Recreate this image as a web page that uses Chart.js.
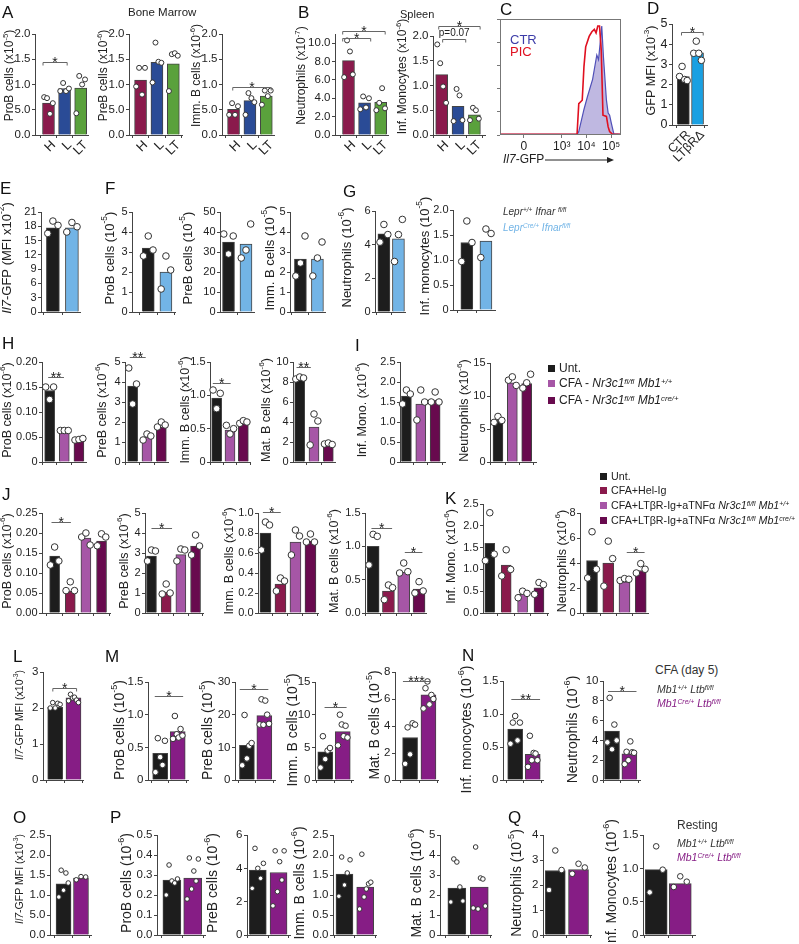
<!DOCTYPE html>
<html>
<head>
<meta charset="utf-8">
<script src="https://cdn.jsdelivr.net/npm/chart.js@4.4.1/dist/chart.umd.min.js"></script>
<style>
  body{margin:0;background:#fff}
  #fig{position:relative;width:799px;height:944px;overflow:hidden;font-family:"Liberation Sans",Arial,sans-serif;color:#222}
  #fig canvas{position:absolute}
  .t{position:absolute;white-space:nowrap;line-height:1}
  .t sup{font-size:0.65em;vertical-align:0.45em;line-height:0}
  .sq{display:inline-block;width:7px;height:7px;margin-right:4px;vertical-align:0px}
</style>
</head>
<body>
<div id="fig"></div>
<script>
// ---------- data ----------
const catsHLT = ['H', 'L', 'LT'];
const catsD = ['CTR', 'LTβRΔ'];

const tickA = [0, 0.5, 1, 1.5, 2];
const tickLabA = ['0.0', '5.0', '1.0', '1.5', '2.0'];
const a1Bars = [0.63, 0.92, 0.93];
const a1Pts = [[0.75, 0.73, 0.42, 0.63], [0.87, 1.03, 0.87, 0.92], [0.43, 1.17, 1.0, 1.1]];
const a2Bars = [1.09, 1.44, 1.41];
const a2Pts = [[0.96, 1.33, 0.8, 1.33], [1.04, 1.83, 1.45, 1.43], [0.87, 1.6, 1.62, 1.57]];
const a3Bars = [0.51, 0.68, 0.77];
const a3Pts = [[0.4, 0.63, 0.4, 0.57], [0.4, 0.83, 0.73, 0.65], [0.6, 0.88, 0.77, 0.88]];
const tickB1 = [0, 2, 4, 6, 8, 10];
const tickLabB1 = ['0.0', '2.0', '4.0', '6.0', '8.0', '10.0'];
const b1Bars = [8.1, 3.5, 3.55];
const b1Pts = [[6.3, 10.3, 9.1, 6.6], [2.8, 4.2, 3.0, 4.0], [2.7, 3.5, 5.1, 2.9]];
const b2Bars = [1.22, 0.58, 0.41];
const b2Pts = [[1.83, 1.45, 0.98, 0.65], [0.28, 0.93, 0.8, 0.3], [0.3, 0.55, 0.5, 0.33]];

// C: histogram, x in display units (0 -> 1.47, 10^3 -> 3, 10^4 -> 4, 10^5 -> 5), y in % of max
const cTicks = [1.47, 3, 4, 5];
const cTickLabels = ['0', '10³', '10⁴', '10⁵'];
const ctrX = [0.5, 3.62, 3.69, 3.9, 4.04, 4.25, 4.42, 4.49, 4.56, 4.62, 4.69, 4.81, 4.88, 4.94, 5.01, 5.11, 5.4];
const ctrY = [0.5, 0.5, 3, 22, 33, 48, 69, 65, 80, 94, 67, 30, 19, 17, 10, 1, 0.5];
const picX = [0.5, 3.62, 3.69, 3.83, 3.9, 3.97, 4.11, 4.22, 4.32, 4.39, 4.46, 4.53, 4.6, 4.67, 4.81, 4.88, 4.94, 5.06, 5.4];
const picY = [0.5, 0.5, 27, 30, 59, 76, 85, 89, 91, 88, 94, 94, 73, 17, 16, 7, 3, 0.5, 0.5];

const tick05 = [0, 1, 2, 3, 4, 5];
const dBars = [2.4, 3.57];
const dPts = [[2.4, 2.9, 2.25, 2.2], [3.55, 4.15, 3.55, 3.2]];

const tickE = [0, 3, 6, 9, 12, 15, 18, 21];
const eBars = [17.7, 17.7];
const ePts = [[16.5, 19.1, 18.2], [16.8, 18.8, 17.9]];
const f1Bars = [3.2, 2.0];
const f1Pts = [[2.8, 3.8, 3.1], [1.15, 2.8, 2.1]];
const tickF2 = [0, 10, 20, 30, 40, 50];
const f2Bars = [35, 34];
const f2Pts = [[39, 29, 38], [27, 31, 44]];
const f3Bars = [2.65, 2.65];
const f3Pts = [[1.8, 2.45, 3.8], [1.8, 2.7, 3.5]];
const tickG1 = [0, 2, 4, 6];
const g1Bars = [4.65, 4.35];
const g1Pts = [[4.15, 5.2, 4.6], [3.0, 4.6, 5.5]];
const tickG2 = [0, 0.5, 1, 1.5, 2];
const tickLabG2 = ['0', '0.5', '1.0', '1.5', '2.0'];
const g2Bars = [1.35, 1.38];
const g2Pts = [[0.97, 1.78, 1.35], [1.05, 1.62, 1.53]];

const tickH1 = [0, 0.05, 0.1, 0.15, 0.2];
const tickLabH1 = ['0', '0.05', '0.10', '0.15', '0.20'];
const h1Bars = [0.143, 0.063, 0.045];
const h1Pts = [[0.15, 0.125, 0.15], [0.063, 0.063, 0.063], [0.044, 0.045, 0.047]];
const h2Bars = [3.8, 1.25, 1.75];
const h2Pts = [[4.7, 2.9, 3.9], [1.1, 1.4, 1.3], [1.75, 2.0, 1.85]];
const tick15 = [0, 0.5, 1, 1.5];
const tickLab15 = ['0', '0.5', '1.0', '1.5'];
const h3Bars = [0.96, 0.48, 0.58];
const h3Pts = [[1.08, 0.8, 1.03], [0.55, 0.42, 0.5], [0.58, 0.62, 0.6]];
const tickH4 = [0, 2, 4, 6, 8, 10];
const h4Bars = [8.3, 3.5, 1.7];
const h4Pts = [[8.3, 8.5, 8.4], [1.7, 4.8, 4.1], [1.8, 1.9, 1.75]];
const tick25 = [0, 0.5, 1, 1.5, 2, 2.5];
const tickLab25 = ['0', '0.5', '1.0', '1.5', '2.0', '2.5'];
const i1Bars = [1.65, 1.45, 1.55];
const i1Pts = [[1.45, 1.8, 1.7], [1.05, 1.8, 1.5], [1.5, 1.75, 1.5]];
const tickI2 = [0, 5, 10, 15];
const i2Bars = [6.3, 12.0, 11.9];
const i2Pts = [[6.0, 6.9, 6.3], [12.4, 12.9, 11.6], [11.2, 12.0, 13.3]];

const tickJ1 = [0, 0.05, 0.1, 0.15, 0.2, 0.25];
const tickLabJ1 = ['0.00', '0.05', '0.10', '0.15', '0.20', '0.25'];
const j1Bars = [0.142, 0.055, 0.187, 0.18];
const j1Pts = [[0.12, 0.165, 0.13], [0.056, 0.078, 0.056], [0.19, 0.2, 0.17], [0.168, 0.198, 0.19]];
const j2Bars = [2.85, 1.05, 2.92, 3.35];
const j2Pts = [[2.6, 3.15, 3.1], [0.95, 1.45, 1.0], [2.6, 3.2, 3.15], [2.9, 3.9, 3.35]];
const tickJ3 = [0, 0.2, 0.4, 0.6, 0.8, 1.0];
const tickLabJ3 = ['0.0', '0.2', '0.4', '0.6', '0.8', '1.0'];
const j3Bars = [0.8, 0.29, 0.71, 0.72];
const j3Pts = [[0.63, 0.91, 0.88], [0.22, 0.35, 0.32], [0.58, 0.83, 0.77], [0.71, 0.79, 0.71]];
const tickLabJ4 = ['0.0', '0.5', '1.0', '1.5'];
const j4Bars = [1.0, 0.33, 0.61, 0.36];
const j4Pts = [[0.72, 1.18, 1.15], [0.2, 0.42, 0.38], [0.6, 0.75, 0.62], [0.3, 0.47, 0.33]];
const tickLabK1 = ['0.0', '0.5', '1.0', '1.5', '2.0', '2.5'];
const k1Bars = [1.6, 1.1, 0.43, 0.58];
const k1Pts = [[1.2, 2.3, 1.35], [0.85, 1.45, 1.0], [0.35, 0.5, 0.45], [0.43, 0.7, 0.65]];
const tickK2 = [0, 2, 4, 6, 8];
const k2Bars = [4.2, 4.0, 2.5, 3.4];
const k2Pts = [[2.8, 6.5, 3.5], [2.15, 5.75, 4.35], [2.6, 2.75, 2.7], [3.2, 3.95, 3.5]];

const tickL = [0, 1, 2, 3];
const lBars = [2.02, 2.28];
const lPts = [[2.0, 2.15, 2.0, 2.13, 2.1], [2.2, 2.38, 2.28, 2.3, 2.22, 2.15]];
const m1Bars = [0.41, 0.74];
const m1Pts = [[0.12, 0.64, 0.35, 0.23, 0.6], [0.63, 0.98, 0.7, 0.65, 0.78, 0.68]];
const tickM2 = [0, 10, 20, 30];
const m2Bars = [10.6, 19.7];
const m2Pts = [[4.5, 19.9, 6.6, 10.5, 11.3], [17.0, 24.7, 16.9, 24.3, 20.0, 17.2]];
const tickM3 = [0, 5, 10, 15];
const m3Bars = [4.3, 7.4];
const m3Pts = [[1.9, 6.7, 3.2, 4.5, 4.9], [5.3, 10.0, 8.5, 6.7, 8.3, 6.5]];
const tickM4 = [0, 2, 4, 6, 8];
const m4Bars = [3.15, 6.3];
const m4Pts = [[1.2, 3.9, 1.9, 4.2, 4.1], [5.3, 6.8, 7.3, 5.6, 6.3, 6.0]];
const n1Bars = [0.77, 0.39];
const n1Pts = [[0.55, 0.87, 0.97, 0.6, 0.87], [0.2, 0.67, 0.3, 0.41, 0.4, 0.3]];
const tickN2 = [0, 2, 4, 6, 8, 10];
const n2Bars = [4.95, 2.65];
const n2Pts = [[3.8, 8.3, 3.1, 5.6, 4.0], [1.6, 2.85, 2.0, 3.9, 2.8, 2.75]];

const tickLabO = ['0.0', '5.0', '1.0', '1.5', '2.0', '2.5'];
const oBars = [1.28, 1.42];
const oPts = [[0.95, 1.62, 1.12, 1.55, 1.3], [1.38, 1.46, 1.45]];
const tickP1 = [0, 0.1, 0.2, 0.3, 0.4, 0.5];
const tickLabP1 = ['0.0', '0.1', '0.2', '0.3', '0.4', '0.5'];
const p1Bars = [0.275, 0.285];
const p1Pts = [[0.2, 0.35, 0.27, 0.26, 0.28], [0.18, 0.385, 0.23, 0.32, 0.27, 0.38]];
const tickP2 = [0, 2, 4, 6];
const p2Bars = [3.9, 3.75];
const p2Pts = [[2.8, 5.2, 4.0, 3.4, 4.3], [1.75, 5.05, 2.6, 4.4, 3.3, 5.05]];
const tickLabP3 = ['0.0', '0.5', '1.0', '1.5', '2.0', '2.5'];
const p3Bars = [1.52, 1.2];
const p3Pts = [[0.97, 1.95, 1.25, 1.55, 1.88], [0.65, 2.02, 0.95, 1.15, 1.28, 1.32]];
const p4Bars = [2.35, 2.4];
const p4Pts = [[1.65, 3.8, 3.65, 2.4, 1.7], [1.35, 4.4, 1.3, 2.85, 2.8, 1.45]];
const tickQ1 = [0, 1, 2, 3, 4];
const q1Bars = [2.58, 2.62];
const q1Pts = [[1.8, 3.38, 2.6], [2.45, 2.85, 2.7]];
const q2Bars = [0.98, 0.77];
const q2Pts = [[0.64, 1.33, 0.98], [0.72, 0.88, 0.8]];

// ---------- colours ----------
const BLK = '#1d1d1d', MAROON = '#8a1a4c', LPUR = '#a656a6', DPUR = '#680a4e', PUR = '#861d85';
const colsHLT = [MAROON, '#2a4b96', '#5aa13c'];
const colsD = [BLK, '#1aa0e2'];
const colsEG = [BLK, '#72b4e6'];
const colsHI = [BLK, LPUR, DPUR];
const colsJK = [BLK, MAROON, LPUR, DPUR];
const colsLQ = [BLK, PUR];

Chart.defaults.font.family = '"Liberation Sans", Arial, sans-serif';
Chart.defaults.color = '#222';

// ---------- panel layout ----------
const panels = [
  {bars:a1Bars, pts:a1Pts, ticks:tickA, tl:tickLabA, cats:catsHLT, col:colsHLT, ax:35, c0:49, sp:16.7, bw:12, right:90, top:34, bot:135, max:2, tx:10, fs:12, tdy:-9, r:2.5, title:'ProB cells (x10^{-5})', br:[[-0.34, 1.16, 1.45, '*', 1]]},
  {bars:a2Bars, pts:a2Pts, ticks:tickA, tl:tickLabA, cats:catsHLT, col:colsHLT, ax:129, c0:141, sp:17, bw:12, right:184, top:34, bot:135, max:2, tx:104, fs:12, tdy:-9, r:2.5, title:'PreB cells (x10^{-6})'},
  {bars:a3Bars, pts:a3Pts, ticks:tickA, tl:tickLabA, cats:catsHLT, col:colsHLT, ax:222, c0:234, sp:17, bw:12, right:276, top:34, bot:135, max:2, tx:197, fs:12, tdy:-9, r:2.5, title:'Imm. B cells (x10^{-6})', br:[[-0.05, 2.3, 0.95, '*', 1]]},
  {bars:b1Bars, pts:b1Pts, ticks:tickB1, tl:tickLabB1, cats:catsHLT, col:colsHLT, ax:335, c0:349, sp:16.7, bw:12, right:390, top:33.8, bot:135, max:11, tx:302, fs:12, tdy:-9, r:2.5, title:'Neutrophils (x10^{-7})', br:[[-0.36, 2.28, 11.3, '*', 1], [-0.36, 1.38, 10.6, '*', 1]]},
  {bars:b2Bars, pts:b2Pts, ticks:tickA, tl:tickLabA, cats:catsHLT, col:colsHLT, ax:433, c0:442, sp:17, bw:12, right:487, top:36, bot:135, max:2, tx:403, fs:12, tdy:-9, r:2.5, title:'Inf. Monocytes (x10^{-6})', br:[[-0.18, 2.35, 2.2, '*', 1], [0.06, 1.47, 1.93, 'p=0.07', 1]]},
  {bars:dBars, pts:dPts, ticks:tick05, cats:catsD, col:colsD, ax:672, c0:684, sp:15, bw:12, right:709, top:24, bot:125, max:5, tx:652, fs:12.5, tdy:-4, r:3.3, tf:12.5, title:'GFP MFI (x10^{-3})', br:[[-0.13, 1.4, 4.59, '*', 1]]},

  {bars:eBars, pts:ePts, ticks:tickE, col:colsEG, ax:41, c0:53.5, sp:20, bw:13, right:82, top:212, bot:312, max:21, tx:7, fs:13, tdy:-4, r:3.3, tf:11, title:'*Il7*-GFP (MFI x10^{-2})'},
  {bars:f1Bars, pts:f1Pts, ticks:tick05, col:colsEG, ax:132, c0:149, sp:18.5, bw:12, right:177, top:212, bot:312, max:5, tx:110, fs:13, tdy:-4, r:3.3, tf:11, title:'ProB cells (10^{-5})'},
  {bars:f2Bars, pts:f2Pts, ticks:tickF2, col:colsEG, ax:220, c0:229, sp:18.5, bw:12, right:256, top:212, bot:312, max:50, tx:188, fs:13, tdy:-4, r:3.3, tf:11, title:'PreB cells (10^{-5})'},
  {bars:f3Bars, pts:f3Pts, ticks:tick05, col:colsEG, ax:290, c0:301, sp:18, bw:12, right:327, top:212, bot:312, max:5, tx:270, fs:13, tdy:-4, r:3.3, tf:11, title:'Imm. B cells (10^{-5})'},
  {bars:g1Bars, pts:g1Pts, ticks:tickG1, col:colsEG, ax:375, c0:384.5, sp:15.5, bw:12, right:407, top:211, bot:312, max:6, tx:347, fs:13, tdy:-4, r:3.3, tf:11, title:'Neutrophils (10^{-6})'},
  {bars:g2Bars, pts:g2Pts, ticks:tickG2, tl:tickLabG2, col:colsEG, ax:453, c0:467.5, sp:20, bw:12, right:497, top:210, bot:310, max:2, tx:425, fs:13, tdy:-4, r:3.3, tf:11, title:'Inf. monocytes (10^{-5})'},

  {bars:h1Bars, pts:h1Pts, ticks:tickH1, tl:tickLabH1, col:colsHI, ax:42, c0:50, sp:15.3, bw:10, right:88, top:362, bot:462, max:0.2, tx:8, fs:12.5, tdy:-2, r:3.3, tf:11, title:'ProB cells (x10^{-6})', br:[[-0.1, 0.98, 0.17, '**']]},
  {bars:h2Bars, pts:h2Pts, ticks:tick05, col:colsHI, ax:125, c0:133, sp:15, bw:10, right:170, top:362, bot:462, max:5, tx:103, fs:12.5, tdy:-2, r:3.3, tf:11, title:'PreB cells (x10^{-6})', br:[[-0.2, 0.91, 5.27, '**']]},
  {bars:h3Bars, pts:h3Pts, ticks:tick15, tl:tickLab15, col:colsHI, ax:210, c0:217, sp:14, bw:10, right:252, top:362, bot:462, max:1.5, tx:186, fs:12.5, tdy:-2, r:3.3, tf:11, title:'Imm. B cells (x10^{-6})', br:[[-0.29, 1.05, 1.18, '*']]},
  {bars:h4Bars, pts:h4Pts, ticks:tickH4, col:colsHI, ax:293, c0:300, sp:15, bw:10, right:337, top:362, bot:462, max:10, tx:267, fs:12.5, tdy:-2, r:3.3, tf:11, title:'Mat. B cells (x10^{-6})', br:[[-0.22, 0.78, 9.53, '**']]},
  {bars:i1Bars, pts:i1Pts, ticks:tick25, tl:tickLab25, col:colsHI, ax:400, c0:406.7, sp:15, bw:10, right:447, top:362, bot:462, max:2.5, tx:363, fs:12.5, tdy:-2, r:3.3, tf:11, title:'Inf. Mono. (x10^{-6})'},
  {bars:i2Bars, pts:i2Pts, ticks:tickI2, col:colsHI, ax:490, c0:498.3, sp:15, bw:10, right:538, top:363, bot:462, max:15, tx:465, fs:12.5, tdy:-2, r:3.3, tf:11, title:'Neutrophils (x10^{-6})'},

  {bars:j1Bars, pts:j1Pts, ticks:tickJ1, tl:tickLabJ1, col:colsJK, ax:42, c0:55, sp:16.1, bw:10, right:112, top:513, bot:613, max:0.25, tx:8, fs:12.5, tdy:-2, r:3.3, tf:11, title:'ProB cells (x10^{-6})', br:[[-0.2, 1.04, 0.227, '*']]},
  {bars:j2Bars, pts:j2Pts, ticks:tick05, col:colsJK, ax:145, c0:151.7, sp:15.2, bw:10, right:205, top:513, bot:613, max:5, tx:125, fs:12.5, tdy:-2, r:3.3, tf:11, title:'PreB cells (x10^{-6})', br:[[0.0, 1.4, 4.27, '*']]},
  {bars:j3Bars, pts:j3Pts, ticks:tickJ3, tl:tickLabJ3, col:colsJK, ax:258, c0:265.7, sp:15.5, bw:11, right:320, top:513, bot:613, max:1, tx:230, fs:12.5, tdy:-2, r:3.3, tf:11, title:'Imm. B cells (x10^{-6})', br:[[-0.17, 1.02, 1.01, '*']]},
  {bars:j4Bars, pts:j4Pts, ticks:tick15, tl:tickLabJ4, col:colsJK, ax:365, c0:373.4, sp:15.8, bw:12, right:428, top:513, bot:613, max:1.5, tx:335, fs:12.5, tdy:-2, r:3.3, tf:11, title:'Mat. B cells (x10^{-6})', br:[[-0.11, 1.24, 1.28, '*'], [2.07, 3.22, 0.92, '*']]},
  {bars:k1Bars, pts:k1Pts, ticks:tick25, tl:tickLabK1, col:colsJK, ax:483, c0:490, sp:16.9, bw:10, right:550, top:504, bot:613, max:2.5, tx:452, fs:12.5, tdy:-2, r:3.3, tf:11, title:'Inf. Mono. (x10^{-6})'},
  {bars:k2Bars, pts:k2Pts, ticks:tickK2, col:colsJK, ax:580, c0:592.4, sp:16.7, bw:11, right:650, top:513, bot:613, max:8, tx:563, fs:12.5, tdy:-2, r:3.3, tf:11, title:'Neutrophils (x10^{-6})', br:[[2.14, 3.24, 4.9, '*']]},

  {bars:lBars, pts:lPts, ticks:tickL, col:colsLQ, ax:43, c0:55.8, sp:19.2, bw:15, right:85, top:672, bot:780, max:3, tx:20, fs:10.5, tdy:-11, r:2.3, title:'*Il7*-GFP MFI (x10^{-3})', br:[[-0.13, 1.17, 2.56, '*', 1]]},
  {bars:m1Bars, pts:m1Pts, ticks:tick15, tl:tickLab15, col:colsLQ, ax:148, c0:160.8, sp:18.4, bw:15, right:190, top:682, bot:780, max:1.5, tx:120, fs:14, tdy:-1, r:2.8, title:'ProB cells (10^{-5})', br:[[-0.31, 1.31, 1.28, '*']]},
  {bars:m2Bars, pts:m2Pts, ticks:tickM2, col:colsLQ, ax:235, c0:247.5, sp:18.3, bw:15, right:277, top:682, bot:780, max:30, tx:208, fs:14, tdy:-1, r:2.8, title:'PreB cells (10^{-5})', br:[[-0.41, 1.23, 28, '*']]},
  {bars:m3Bars, pts:m3Pts, ticks:tickM3, col:colsLQ, ax:315, c0:325.8, sp:18.4, bw:15, right:355, top:682, bot:780, max:15, tx:293, fs:14, tdy:-1, r:2.8, title:'Imm. B cells (10^{-5})', br:[[-0.04, 1.22, 11.2, '*']]},
  {bars:m4Bars, pts:m4Pts, ticks:tickM4, col:colsLQ, ax:395, c0:410.8, sp:19.2, bw:15, right:440, top:672, bot:780, max:8, tx:375, fs:14, tdy:-1, r:2.8, title:'Mat. B cells (10^{-5})', br:[[-0.39, 1.09, 7.33, '***']]},
  {bars:n1Bars, pts:n1Pts, ticks:tick15, tl:tickLab15, col:colsLQ, ax:503, c0:515.8, sp:18.4, bw:15, right:545, top:681, bot:780, max:1.5, tx:467, fs:14, tdy:-1, r:2.8, title:'Inf. monocytes (10^{-6})', br:[[-0.22, 1.42, 1.23, '**']]},
  {bars:n2Bars, pts:n2Pts, ticks:tickN2, col:colsLQ, ax:603, c0:612.5, sp:18.3, bw:15, right:642, top:681, bot:780, max:10, tx:573, fs:14, tdy:-1, r:2.8, title:'Neutrophils (10^{-6})', br:[[-0.23, 1.41, 9.0, '*']]},

  {bars:oBars, pts:oPts, ticks:tick25, tl:tickLabO, col:colsLQ, ax:50, c0:64.2, sp:18.3, bw:15, right:93, top:835, bot:935, max:2.5, tx:20, fs:10.5, tdy:-6, r:2.3, title:'*Il7*-GFP MFI (x10^{-3})'},
  {bars:p1Bars, pts:p1Pts, ticks:tickP1, tl:tickLabP1, col:colsLQ, ax:157, c0:172.5, sp:21.7, bw:18, right:207, top:835, bot:935, max:0.5, tx:127, fs:14, tdy:-2, r:2.3, title:'ProB cells (10^{-6})'},
  {bars:p2Bars, pts:p2Pts, ticks:tickP2, col:colsLQ, ax:247, c0:258.3, sp:21.7, bw:17, right:292, top:835, bot:935, max:6, tx:213, fs:14, tdy:-2, r:2.3, title:'PreB cells (10^{-6})'},
  {bars:p3Bars, pts:p3Pts, ticks:tick25, tl:tickLabP3, col:colsLQ, ax:333, c0:345, sp:21.7, bw:17, right:378, top:835, bot:935, max:2.5, tx:300, fs:14, tdy:-2, r:2.3, title:'Imm. B cells (10^{-6})'},
  {bars:p4Bars, pts:p4Pts, ticks:tick05, col:colsLQ, ax:440, c0:457.5, sp:23.3, bw:18, right:493, top:835, bot:935, max:5, tx:417, fs:14, tdy:-2, r:2.3, title:'Mat. B cells (10^{-6})'},
  {bars:q1Bars, pts:q1Pts, ticks:tickQ1, col:colsLQ, ax:543, c0:555.8, sp:24.2, bw:20, right:593, top:835, bot:935, max:4, tx:517, fs:14, tdy:-2, r:2.8, title:'Neutrophils (10^{-5})'},
  {bars:q2Bars, pts:q2Pts, ticks:tick15, tl:tickLab15, col:colsLQ, ax:643, c0:656.7, sp:25, bw:22, right:697, top:835, bot:935, max:1.5, tx:612, fs:14, tdy:-2, r:2.8, title:'Inf. Monocytes (10^{-6})'}
];

// ---------- helpers ----------
const FONT = '"Liberation Sans", Arial, sans-serif';
function parseRich(s){
  const out = []; const re = /\^\{([^}]*)\}|\*([^*]*)\*|([^*^]+)/g; let m;
  while ((m = re.exec(s))) {
    if (m[1] !== undefined) out.push({t:m[1], sup:true});
    else if (m[2] !== undefined) out.push({t:m[2], it:true});
    else out.push({t:m[3]});
  }
  return out;
}
function drawRich(ctx, s, x, y, size, color, rot, align){
  const segs = parseRich(s);
  const fnt = g => (g.it ? 'italic ' : '') + (g.sup ? size * 0.65 : size) + 'px ' + FONT;
  let w = 0;
  segs.forEach(g => { ctx.font = fnt(g); g.w = ctx.measureText(g.t).width; w += g.w; });
  ctx.save();
  ctx.translate(x, y);
  if (rot) ctx.rotate(rot);
  ctx.fillStyle = color; ctx.textBaseline = 'middle'; ctx.textAlign = 'left';
  let cx = align === 'left' ? 0 : -w / 2;
  segs.forEach(g => { ctx.font = fnt(g); ctx.fillText(g.t, cx, g.sup ? -size * 0.38 : 0); cx += g.w; });
  ctx.restore();
}
const off = (k, n) => n > 1 ? -0.27 + 0.54 * k / (n - 1) : 0;
const fig = document.getElementById('fig');

function addCanvas(left, top, w, h){
  const c = document.createElement('canvas');
  c.width = w; c.height = h;
  c.style.left = left + 'px'; c.style.top = top + 'px';
  c.style.width = w + 'px'; c.style.height = h + 'px';
  fig.appendChild(c);
  return c;
}

function makePanel(p){
  const T = 30, B = p.cats ? 40 : 14;
  const left = Math.round(Math.min(p.tx - 9, p.ax - 40));
  const L = p.ax - left;
  const top = Math.round(p.top) - T;
  const h = T + (p.bot - Math.round(p.top)) + B;
  const w = Math.round(p.right) + 3 - left;
  const cv = addCanvas(left, top, w, h);
  const xMin = -(p.c0 - p.ax) / p.sp;
  const xMax = xMin + (p.right - p.ax) / p.sp;
  const tf = p.tf || 11.5;

  const overlay = {
    id: 'overlay',
    afterDraw(chart){
      const ctx = chart.ctx, a = chart.chartArea;
      const xs = chart.scales.x, ys = chart.scales.y;
      ctx.save();
      // y tick labels, placed by the y scale
      ctx.font = tf + 'px ' + FONT; ctx.fillStyle = '#222';
      ctx.textAlign = 'right'; ctx.textBaseline = 'middle';
      ys.ticks.forEach((t, i) => ctx.fillText(p.tl ? p.tl[i] : String(t.value), a.left - 4.5, ys.getPixelForValue(t.value)));
      // rotated category labels, placed by the x scale
      if (p.cats) {
        ctx.font = (p.cats.length > 2 ? 13 : 12.5) + 'px ' + FONT;
        xs.ticks.forEach((t, i) => {
          ctx.save();
          ctx.translate(xs.getPixelForValue(t.value) + 5, a.bottom + 8);
          ctx.rotate(-Math.PI / 4);
          ctx.textAlign = 'right'; ctx.textBaseline = 'middle';
          ctx.fillText(p.cats[i], 0, 0);
          ctx.restore();
        });
      }
      ctx.restore();
      drawRich(ctx, p.title, p.tx - left, (a.top + a.bottom) / 2 + p.tdy, p.fs, '#222', -Math.PI / 2);
      (p.br || []).forEach(b => {
        const x1 = xs.getPixelForValue(b[0]), x2 = xs.getPixelForValue(b[1]);
        const y = Math.round(ys.getPixelForValue(b[2])) + 0.5;
        ctx.save();
        ctx.strokeStyle = '#666'; ctx.lineWidth = 1;
        ctx.beginPath();
        if (b[4]) { ctx.moveTo(x1, y + 3); ctx.lineTo(x1, y); ctx.lineTo(x2, y); ctx.lineTo(x2, y + 3); }
        else { ctx.moveTo(x1, y); ctx.lineTo(x2, y); }
        ctx.stroke();
        ctx.fillStyle = '#222'; ctx.textAlign = 'center';
        if (b[3].startsWith('p')) { ctx.font = '10px ' + FONT; ctx.textBaseline = 'bottom'; ctx.fillText(b[3], (x1 + x2) / 2, y - 1); }
        else { ctx.font = '14px ' + FONT; ctx.textBaseline = 'alphabetic'; ctx.fillText(b[3], (x1 + x2) / 2, y + 4); }
        ctx.restore();
      });
    }
  };

  new Chart(cv, {
    type: 'bar',
    data: {
      datasets: [
        {type:'scatter', data: p.pts.flatMap((arr, i) => arr.map((v, k) => ({x: i + off(k, arr.length), y: v}))),
         pointRadius: p.r, pointBackgroundColor: '#fff', pointBorderColor: '#333', pointBorderWidth: 1, order: 1, clip: false},
        {type:'bar', data: p.bars.map((v, i) => ({x: i, y: v})), backgroundColor: p.col,
         borderColor: '#444', borderWidth: 1, barThickness: p.bw, order: 2}
      ]
    },
    options: {
      responsive: false, animation: false, devicePixelRatio: 1,
      layout: {padding: {top: T, right: 3, bottom: 0, left: 0}},
      plugins: {legend: {display: false}, tooltip: {enabled: false}},
      scales: {
        x: {type: 'linear', min: xMin, max: xMax, offset: false,
            afterBuildTicks: s => { s.ticks = p.bars.map((_, i) => ({value: i})); },
            afterFit: s => { s.height = B; s.paddingLeft = 0; s.paddingRight = 0; },
            ticks: {autoSkip: false, callback: () => '', maxRotation: 0, padding: 0},
            grid: {display: true, drawOnChartArea: false, drawTicks: true, tickLength: 3, color: '#444'},
            border: {display: true, color: '#444', width: 1}},
        y: {min: 0, max: p.max,
            afterBuildTicks: s => { s.ticks = p.ticks.map(v => ({value: v})); },
            afterFit: s => { s.width = L; s.paddingTop = 0; s.paddingBottom = 0; },
            ticks: {autoSkip: false, callback: () => '', padding: 0},
            grid: {display: true, drawOnChartArea: false, drawTicks: true, tickLength: 3, color: '#444'},
            border: {display: true, color: '#444', width: 1}}
      }
    },
    plugins: [overlay]
  });
}
panels.forEach(makePanel);

// ---------- C: histogram ----------
(function(){
  const left = 495, top = 12, w = 130, h = 160;
  const cv = addCanvas(left, top, w, h);
  const frame = {
    id: 'frame',
    afterDraw(chart){
      const ctx = chart.ctx, a = chart.chartArea, xs = chart.scales.x;
      ctx.save();
      ctx.strokeStyle = '#777'; ctx.lineWidth = 1;
      ctx.strokeRect(a.left + 0.5, a.top + 0.5, a.right - a.left - 1, a.bottom - a.top - 1);
      ctx.font = '12px ' + FONT; ctx.fillStyle = '#222'; ctx.textAlign = 'center'; ctx.textBaseline = 'middle';
      xs.ticks.forEach((t, i) => ctx.fillText(cTickLabels[i], xs.getPixelForValue(t.value), a.bottom + 12));
      ctx.font = '13px ' + FONT; ctx.textAlign = 'left';
      ctx.fillStyle = '#3c3ca8'; ctx.fillText('CTR', 510 - left, 40 - top);
      ctx.fillStyle = '#e01020'; ctx.fillText('PIC', 510 - left, 52 - top);
      drawRich(ctx, '*Il7*-GFP', 503 - left, 160 - top, 12, '#222', 0, 'left');
      ctx.strokeStyle = '#222';
      ctx.beginPath(); ctx.moveTo(545 - left, 160 - top); ctx.lineTo(610 - left, 160 - top); ctx.stroke();
      ctx.fillStyle = '#222';
      ctx.beginPath(); ctx.moveTo(614 - left, 160 - top); ctx.lineTo(607 - left, 157 - top); ctx.lineTo(607 - left, 163 - top); ctx.closePath(); ctx.fill();
      ctx.restore();
    }
  };
  new Chart(cv, {
    type: 'line',
    data: {
      datasets: [
        {data: picX.map((x, i) => ({x, y: picY[i]})), borderColor: '#e01020', borderWidth: 1.6, pointRadius: 0, fill: false, tension: 0, order: 1},
        {data: ctrX.map((x, i) => ({x, y: ctrY[i]})), borderColor: '#5050b8', borderWidth: 1.2, backgroundColor: 'rgba(170,160,215,0.75)', pointRadius: 0, fill: 'origin', tension: 0, order: 2}
      ]
    },
    options: {
      responsive: false, animation: false, devicePixelRatio: 1,
      layout: {padding: {top: 7, right: 4, bottom: 0, left: 0}},
      plugins: {legend: {display: false}, tooltip: {enabled: false}},
      scales: {
        x: {type: 'linear', min: 0.5, max: 5.4,
            afterBuildTicks: s => { s.ticks = cTicks.map(v => ({value: v})); },
            afterFit: s => { s.height = 37; s.paddingLeft = 0; s.paddingRight = 0; },
            ticks: {autoSkip: false, callback: () => '', maxRotation: 0, padding: 0},
            grid: {display: true, drawOnChartArea: false, tickLength: 3, color: '#777'},
            border: {display: false}},
        y: {min: 0, max: 100,
            afterBuildTicks: s => { s.ticks = [0, 20, 40, 60, 80, 100].map(v => ({value: v})); },
            afterFit: s => { s.width = 5; s.paddingTop = 0; s.paddingBottom = 0; },
            ticks: {callback: () => '', padding: 0},
            grid: {display: true, drawOnChartArea: false, tickLength: 3, color: '#777'},
            border: {display: false}}
      }
    },
    plugins: [frame]
  });
})();

// ---------- text labels ----------
function addText(html, left, top, style){
  const d = document.createElement('div');
  d.className = 't'; d.innerHTML = html;
  d.style.left = left + 'px'; d.style.top = top + 'px';
  if (style) d.setAttribute('style', d.getAttribute('style') + ';' + style);
  fig.appendChild(d);
}
[['A', 2, 4], ['B', 298, 4], ['C', 500, 1], ['D', 647, 0], ['E', 0, 180], ['F', 105, 180], ['G', 343, 183],
 ['H', 2, 335], ['I', 355, 337], ['J', 2, 486], ['K', 445, 490], ['L', 13, 648], ['M', 105, 648], ['N', 462, 647],
 ['O', 13, 809], ['P', 110, 809], ['Q', 508, 809]].forEach(l => addText(l[0], l[1], l[2], 'font-size:17px;color:#111'));

addText('Bone Marrow', 128, 7, 'font-size:11.5px');
addText('Spleen', 400, 9, 'font-size:11px');

addText('<i>Lepr<sup>+/+</sup> Ifnar <sup>fl/fl</sup></i>', 503, 207, 'font-size:10px;color:#333');
addText('<i>Lepr<sup>Cre/+</sup> Ifnar<sup>fl/fl</sup></i>', 503, 223, 'font-size:10px;color:#72b4e6');

const sq = c => `<span class="sq" style="background:${c}"></span>`;
addText(sq(BLK) + 'Unt.', 548, 362, 'font-size:12px');
addText(sq(LPUR) + 'CFA - <i>Nr3c1<sup>fl/fl</sup> Mb1<sup>+/+</sup></i>', 548, 377, 'font-size:12px');
addText(sq(DPUR) + 'CFA - <i>Nr3c1<sup>fl/fl</sup> Mb1<sup>cre/+</sup></i>', 548, 394, 'font-size:12px');

addText(sq(BLK) + 'Unt.', 600, 471, 'font-size:10.7px');
addText(sq(MAROON) + 'CFA+Hel-Ig', 600, 485, 'font-size:10.7px');
addText(sq(LPUR) + 'CFA+LTβR-Ig+aTNFα <i>Nr3c1<sup>fl/fl</sup> Mb1<sup>+/+</sup></i>', 600, 500, 'font-size:10.7px');
addText(sq(DPUR) + 'CFA+LTβR-Ig+aTNFα <i>Nr3c1<sup>fl/fl</sup> Mb1<sup>cre/+</sup></i>', 600, 515, 'font-size:10.7px');

addText('CFA (day 5)', 655, 664, 'font-size:12px;color:#333');
addText('<i>Mb1<sup>+/+</sup> Ltb<sup>fl/fl</sup></i>', 657, 684, 'font-size:10.5px;color:#333');
addText('<i>Mb1<sup>Cre/+</sup> Ltb<sup>fl/fl</sup></i>', 657, 698, 'font-size:10.5px;color:' + PUR);

addText('Resting', 677, 819, 'font-size:12px;color:#333');
addText('<i>Mb1<sup>+/+</sup> Ltb<sup>fl/fl</sup></i>', 677, 838, 'font-size:10.5px;color:#333');
addText('<i>Mb1<sup>Cre/+</sup> Ltb<sup>fl/fl</sup></i>', 677, 852, 'font-size:10.5px;color:' + PUR);
</script>
</body>
</html>
